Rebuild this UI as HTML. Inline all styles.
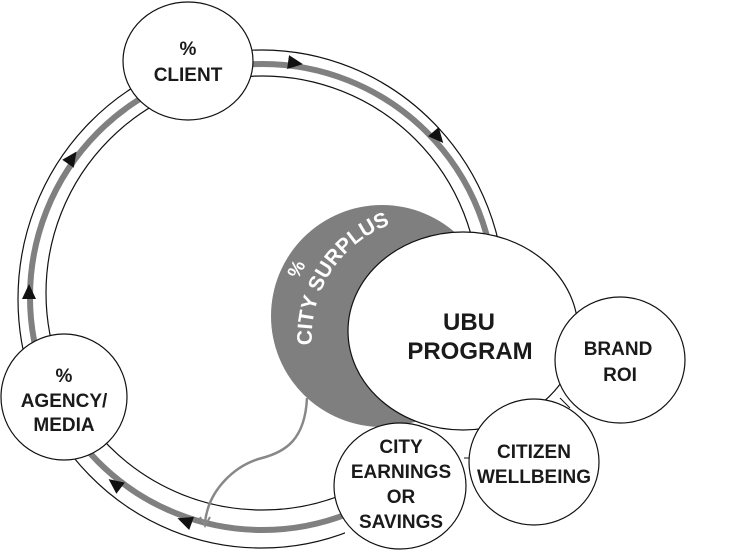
<!DOCTYPE html>
<html><head><meta charset="utf-8"><style>
html,body{margin:0;padding:0;background:#fff;}
svg{display:block;}
text{font-family:"Liberation Sans",sans-serif;font-weight:bold;fill:#1a1a1a;text-anchor:middle;}
</style></head><body>
<svg width="731" height="550" viewBox="0 0 731 550" xmlns="http://www.w3.org/2000/svg">
<defs>
<mask id="m"><rect x="0" y="0" width="731" height="550" fill="#fff"/><polygon points="345,395 600,395 600,550 345,550" fill="#000"/></mask>
<path id="arc" d="M312,345 A120,120 0 0 1 398,222"/>
</defs>
<g mask="url(#m)">
<ellipse cx="261.5" cy="299" rx="243.5" ry="249" fill="none" stroke="#111" stroke-width="1.2"/>
<ellipse cx="262.5" cy="297" rx="232.5" ry="233" fill="none" stroke="#808080" stroke-width="6"/>
<ellipse cx="262.5" cy="293" rx="216.5" ry="217" fill="none" stroke="#111" stroke-width="1.2"/>
</g>
<g fill="#111">
<polygon points="-7,-7 8,0 -7,7" transform="translate(295,63) rotate(8)"/>
<polygon points="-7,-7 8,0 -7,7" transform="translate(438,137) rotate(49)"/>
<polygon points="-7,-7 8,0 -7,7" transform="translate(72,158) rotate(-55)"/>
<polygon points="-7,-7 8,0 -7,7" transform="translate(29,292) rotate(-90)"/>
<polygon points="-7,-7 8,0 -7,7" transform="translate(115,484) rotate(217)"/>
<polygon points="-7,-7 8,0 -7,7" transform="translate(185,521) rotate(200)"/>
</g>
<ellipse cx="382" cy="316" rx="111" ry="111" fill="#7f7f7f"/>
<path d="M307,398 C305,440 285,452 262,458 C235,465 208,490 205,523" fill="none" stroke="#888" stroke-width="2.5"/>
<polyline points="200,517 205,526 210,517" fill="none" stroke="#888" stroke-width="2"/>
<ellipse cx="463" cy="331" rx="115" ry="99" fill="#fff" stroke="#111" stroke-width="1.2"/>
<text style="fill:#fff;font-size:21px;text-anchor:start"><textPath href="#arc">CITY SURPLUS</textPath></text>
<text transform="translate(302,272) rotate(-62)" style="fill:#fff;font-size:19px">%</text>
<line x1="560" y1="398" x2="570" y2="408" stroke="#111" stroke-width="1"/>
<line x1="464" y1="458" x2="472" y2="458" stroke="#111" stroke-width="1"/>
<ellipse cx="188" cy="61" rx="65" ry="59" fill="#fff" stroke="#111" stroke-width="1.2"/>
<ellipse cx="64" cy="397" rx="63" ry="63" fill="#fff" stroke="#111" stroke-width="1.2"/>
<ellipse cx="620" cy="360" rx="65" ry="63" fill="#fff" stroke="#111" stroke-width="1.2"/>
<ellipse cx="534" cy="462" rx="65" ry="63" fill="#fff" stroke="#111" stroke-width="1.2"/>
<ellipse cx="400" cy="486" rx="66" ry="63" fill="#fff" stroke="#111" stroke-width="1.2"/>
<g style="font-size:19px">
<text x="188" y="55">%</text>
<text x="188" y="81">CLIENT</text>
<text x="64" y="382">%</text>
<text x="64" y="407">AGENCY/</text>
<text x="64" y="431">MEDIA</text>
<text x="618" y="355">BRAND</text>
<text x="620" y="381">ROI</text>
<text x="534" y="458">CITIZEN</text>
<text x="534" y="483">WELLBEING</text>
<text x="401" y="453">CITY</text>
<text x="401" y="478">EARNINGS</text>
<text x="401" y="503">OR</text>
<text x="401" y="528">SAVINGS</text>
</g>
<g style="font-size:24px">
<text x="469" y="330">UBU</text>
<text x="470" y="359">PROGRAM</text>
</g>
</svg>
</body></html>
